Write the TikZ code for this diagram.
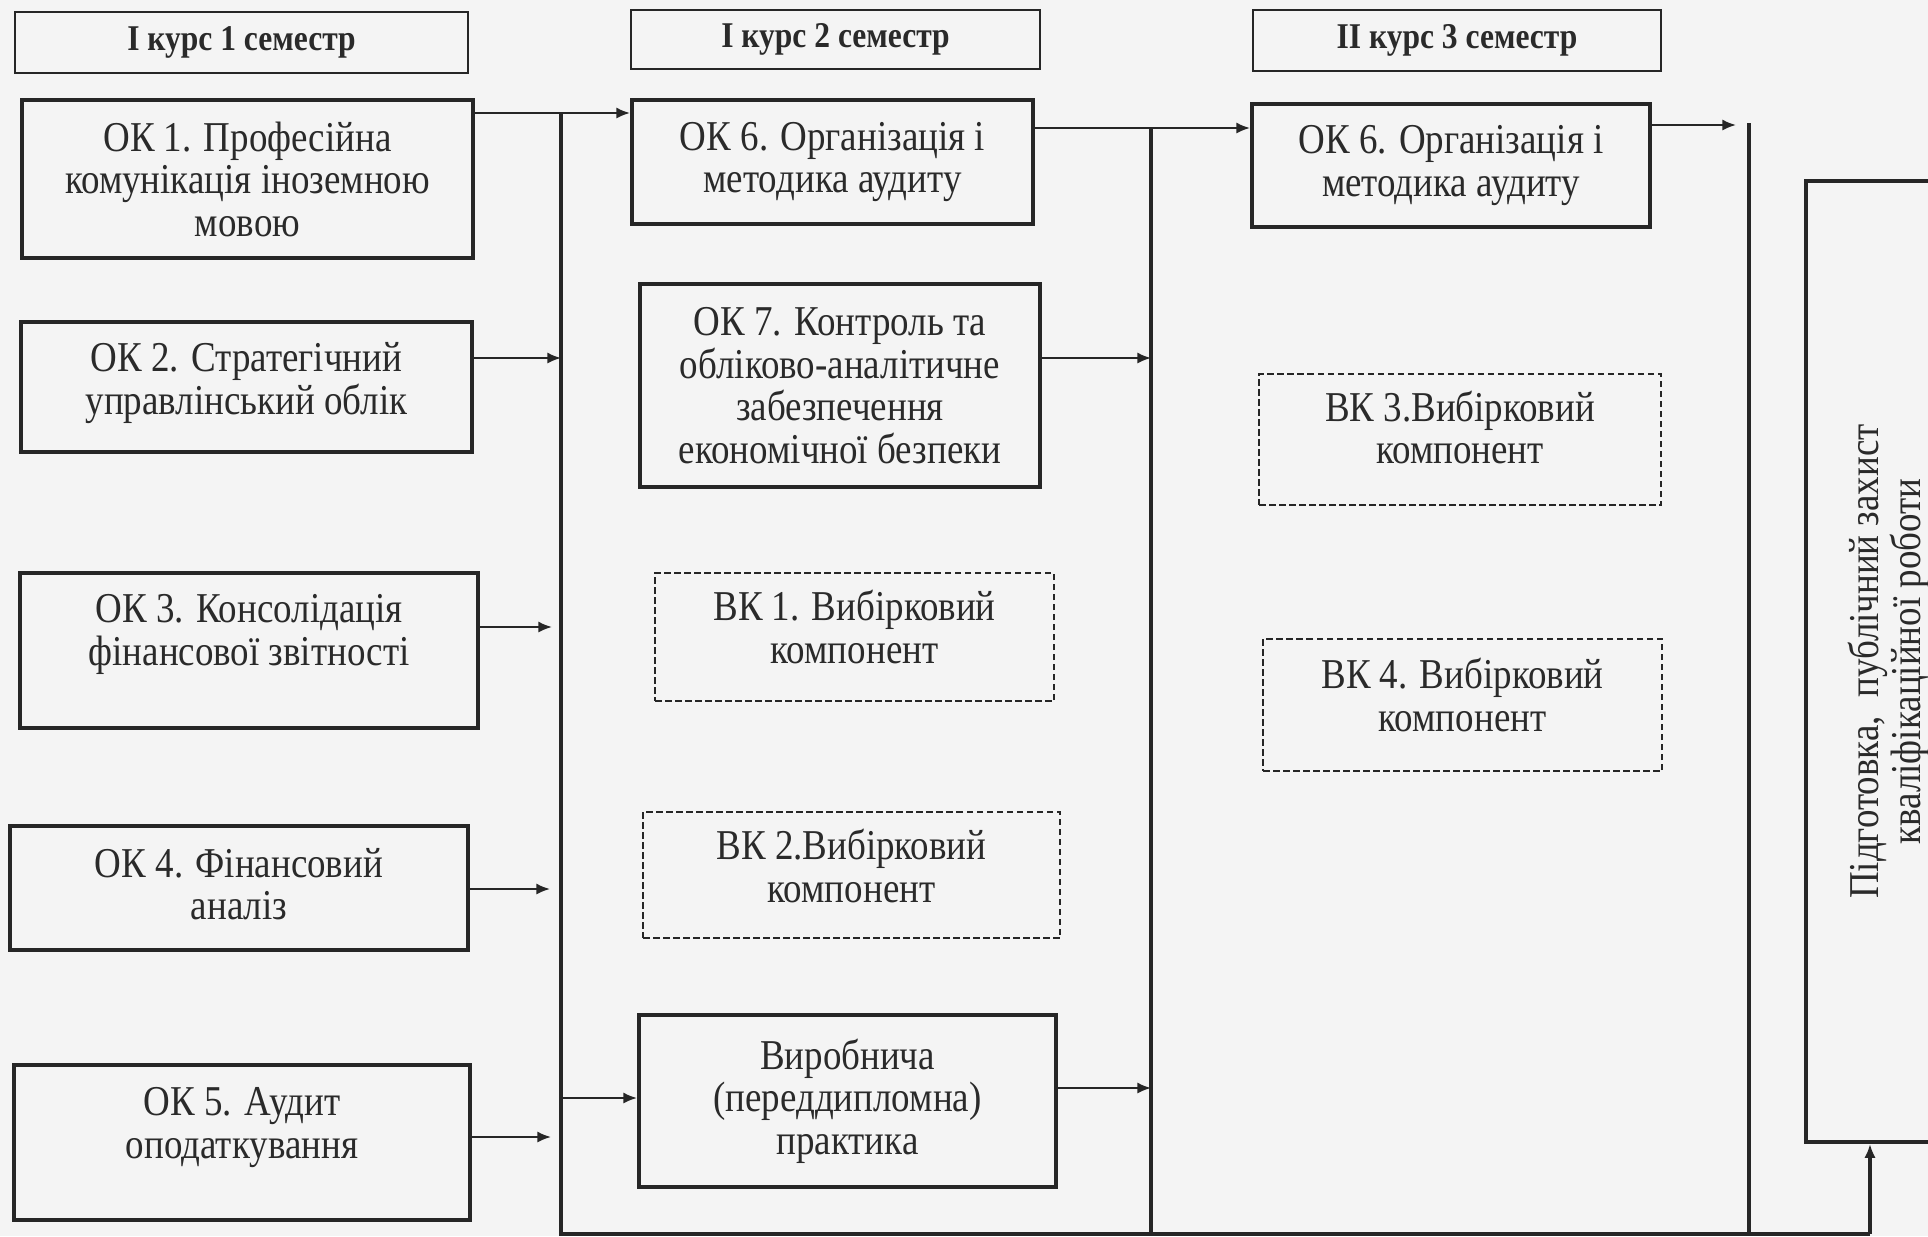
\documentclass[tikz,border=0pt]{standalone}
\usepackage{fontspec}
\setmainfont{Liberation Serif}[FakeStretch=0.87]
\usetikzlibrary{arrows.meta}
\definecolor{bg}{HTML}{F4F4F4}
\definecolor{ink}{HTML}{262626}
\definecolor{txt}{HTML}{2A2A2A}
\newcommand\dn[1]{\rule[-#1]{0pt}{#1}}
\begin{document}
\begin{tikzpicture}[x=0.4pt,y=-0.4pt,
  every node/.style={text=txt},
  hdr/.style 2 args={draw=ink, line width=0.6pt, minimum width=#1*0.4pt, minimum height=#2*0.4pt, inner sep=0pt, font=\fontsize{14.5}{16}\selectfont\bfseries},
  okbox/.style 2 args={draw=ink, line width=1.6pt, minimum width=#1*0.4pt, minimum height=#2*0.4pt, inner sep=0pt, align=center, font=\fontsize{17}{17}\selectfont},
  vkbox/.style 2 args={draw=ink, line width=0.6pt, dash pattern=on 2.6pt off 1.4pt, minimum width=#1*0.4pt, minimum height=#2*0.4pt, inner sep=0pt, align=center, font=\fontsize{17}{17}\selectfont},
  arr/.style={draw=ink, line width=0.8pt, -{Latex[length=5.5pt,width=4.5pt]}},
  vline/.style={draw=ink, line width=1.4pt},
]
\fill[bg] (0,0) rectangle (1928,1236);
\useasboundingbox (0,0) rectangle (1928,1236);
\clip (0,0) rectangle (1928,1236);

% headers
\node[hdr={453}{61}] (h1) at (241.5,42.5) {І курс 1 семестр};
\node[hdr={409}{59}] (h2) at (835.5,39.5) {І курс 2 семестр};
\node[hdr={408}{61}] (h3) at (1457,40.5) {ІІ курс 3 семестр};

% column 1
\node[okbox={451}{158}] (ok1) at (247.5,179) {ОК 1. Професійна\\комунікація іноземною\\мовою};
\node[okbox={451}{130}] (ok2) at (246.5,387) {ОК 2. Стратегічний\\управлінський облік\dn{6.9pt}};
\node[okbox={458}{155}] (ok3) at (249,650.5) {ОК 3. Консолідація\\фінансової звітності\dn{16.5pt}};
\node[okbox={458}{124}] (ok4) at (239,888) {ОК 4. Фінансовий\\аналіз\dn{3.2pt}};
\node[okbox={456}{155}] (ok5) at (242,1142.5) {ОК 5. Аудит\\оподаткування\dn{15.7pt}};

% column 2
\node[okbox={401}{124}] (ok6a) at (832.5,162) {ОК 6. Організація і\\методика аудиту};
\node[okbox={400}{203}] (ok7) at (840,385.5) {ОК 7. Контроль та\\обліково-аналітичне\\забезпечення\\економічної безпеки};
\node[vkbox={399}{128}] (vk1) at (854.5,637) {ВК 1. Вибірковий\\компонент\dn{8pt}};
\node[vkbox={417}{126}] (vk2) at (851.5,875) {ВК 2.Вибірковий\\компонент\dn{7.2pt}};
\node[okbox={417}{172}] (prac) at (847.5,1101) {Виробнича\\(переддипломна)\\практика};

% column 3
\node[okbox={398}{123}] (ok6b) at (1451,165.5) {ОК 6. Організація і\\методика аудиту};
\node[vkbox={402}{131}] (vk3) at (1460,439.5) {ВК 3.Вибірковий\\компонент\dn{9.6pt}};
\node[vkbox={399}{132}] (vk4) at (1462.5,705) {ВК 4. Вибірковий\\компонент\dn{8pt}};

% final box
\node[okbox={961}{166}, rotate=90] (rb) at (1889,661.5) {Підготовка,~ публічний захист\\кваліфікаційної роботи};

% coordinates
\coordinate (v1t) at (561,113); \coordinate (v1b) at (561,1234);
\coordinate (v2t) at (1151,128); \coordinate (v2b) at (1151,1234);
\coordinate (v3t) at (1749,123); \coordinate (v3b) at (1749,1234);
\coordinate (ub) at (1870,1234);
\coordinate (y2) at (0,358);
\coordinate (t3) at (552,627);
\coordinate (t4) at (550,889);
\coordinate (t5) at (551,1137);
\coordinate (y6) at (0,1098);
\coordinate (y7) at (0,358);
\coordinate (y8) at (0,1088);
\coordinate (t9) at (1736,125);

% trunk lines
\draw[vline] (v1t) -- (v1b) -- (ub);
\draw[vline] (v2t) -- (v2b);
\draw[vline] (v3t) -- (v3b);
\draw[vline, -{Latex[length=5.5pt,width=4.5pt]}] (ub) -- (ub |- rb.west);

% arrows
\draw[arr] (ok1.east |- v1t) -- (ok6a.west |- v1t);
\draw[arr] (ok2.east |- y2) -- (v1t |- y2);
\draw[arr] (ok3.east |- t3) -- (t3);
\draw[arr] (ok4.east |- t4) -- (t4);
\draw[arr] (ok5.east |- t5) -- (t5);
\draw[arr] (v1t |- y6) -- (prac.west |- y6);
\draw[arr] (ok7.east |- y7) -- (v2t |- y7);
\draw[arr] (prac.east |- y8) -- (v2t |- y8);
\draw[arr] (ok6a.east |- v2t) -- (ok6b.west |- v2t);
\draw[arr] (ok6b.east |- t9) -- (t9);
\end{tikzpicture}
\end{document}
